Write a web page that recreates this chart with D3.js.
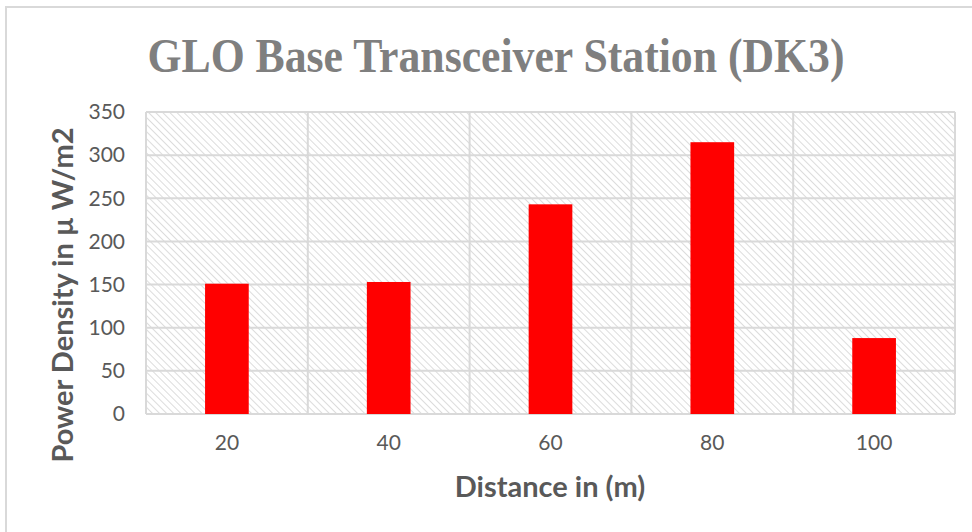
<html><head>
<script src="https://d3js.org/d3.v7.min.js"></script>
<style>
body { margin: 0; background: #fff; }
svg { display: block; }
</style>
</head>
<body>
<svg id="chart" width="972" height="532"></svg>
<script>
// data
const distances = ["20", "40", "60", "80", "100"];
const powerDensity = [151, 153, 243, 315, 88];
const yTicks = [0, 50, 100, 150, 200, 250, 300, 350];

const svg = d3.select('#chart');
const width = 972, height = 532;
const plot = { left: 146, right: 955, top: 112, bottom: 414 };

// hatch fill for plot area
const defs = svg.append('defs');
const pat = defs.append('pattern')
  .attr('id', 'hatch')
  .attr('patternUnits', 'userSpaceOnUse')
  .attr('width', 5).attr('height', 5)
  .attr('patternTransform', 'rotate(-45)');
pat.append('rect').attr('width', 5).attr('height', 5).attr('fill', '#fff');
pat.append('line')
  .attr('x1', 0).attr('y1', 0).attr('x2', 0).attr('y2', 5)
  .attr('stroke', '#dcdcdc').attr('stroke-width', 2);

// chart border
svg.append('rect')
  .attr('x', 6).attr('y', 7)
  .attr('width', 980).attr('height', 540)
  .attr('fill', 'none')
  .attr('stroke', '#d9d9d9')
  .attr('stroke-width', 2);

const x = d3.scaleBand()
  .domain(distances)
  .range([plot.left, plot.right])
  .paddingInner(0.73)
  .paddingOuter(0.365);

const xCat = d3.scaleBand()
  .domain(distances)
  .range([plot.left, plot.right]);

const y = d3.scaleLinear()
  .domain([0, 350])
  .range([plot.bottom, plot.top]);

svg.append('rect')
  .attr('x', plot.left).attr('y', plot.top)
  .attr('width', plot.right - plot.left)
  .attr('height', plot.bottom - plot.top)
  .attr('fill', 'url(#hatch)');

// horizontal gridlines
svg.append('g')
  .selectAll('line')
  .data(yTicks)
  .join('line')
  .attr('x1', plot.left).attr('x2', plot.right)
  .attr('y1', d => y(d)).attr('y2', d => y(d))
  .attr('stroke', '#d9d9d9')
  .attr('stroke-width', 2);

// vertical gridlines at category boundaries
const bounds = distances.map(d => xCat(d)).concat([plot.right]);
svg.append('g')
  .selectAll('line')
  .data(bounds)
  .join('line')
  .attr('x1', d => d).attr('x2', d => d)
  .attr('y1', plot.top).attr('y2', plot.bottom)
  .attr('stroke', '#d9d9d9')
  .attr('stroke-width', 2);

// bars
svg.append('g')
  .selectAll('rect')
  .data(powerDensity)
  .join('rect')
  .attr('x', (d, i) => x(distances[i]))
  .attr('y', d => y(d))
  .attr('width', x.bandwidth())
  .attr('height', d => y(0) - y(d))
  .attr('fill', '#ff0000');

// y axis labels
const yAxis = d3.axisLeft(y).tickValues(yTicks).tickSize(0).tickPadding(0);
const gy = svg.append('g')
  .attr('transform', `translate(${plot.left - 21},0)`)
  .call(yAxis);
gy.select('.domain').remove();
gy.selectAll('text')
  .attr('font-family', 'Lato, "Open Sans", sans-serif')
  .attr('font-size', 21)
  .attr('fill', '#595959');

// x axis labels
const xAxis = d3.axisBottom(xCat).tickSize(0).tickPadding(0);
const gx = svg.append('g')
  .attr('transform', `translate(0,${plot.bottom + 21})`)
  .call(xAxis);
gx.select('.domain').remove();
gx.selectAll('text')
  .attr('font-family', 'Lato, "Open Sans", sans-serif')
  .attr('font-size', 21)
  .attr('fill', '#595959');

// title
svg.append('text')
  .attr('x', 496).attr('y', 72)
  .attr('text-anchor', 'middle')
  .attr('font-family', '"Liberation Serif", "DejaVu Serif", serif')
  .attr('font-weight', 'bold')
  .attr('font-size', 48)
  .attr('textLength', 697)
  .attr('lengthAdjust', 'spacingAndGlyphs')
  .attr('fill', '#7f7f7f')
  .text('GLO Base Transceiver Station (DK3)');

// axis titles
svg.append('text')
  .attr('x', 550).attr('y', 497)
  .attr('text-anchor', 'middle')
  .attr('font-family', 'Lato, "Open Sans", sans-serif')
  .attr('font-weight', 'bold')
  .attr('font-size', 29)
  .attr('fill', '#595959')
  .text('Distance in (m)');

svg.append('text')
  .attr('transform', 'translate(73,295) rotate(-90)')
  .attr('text-anchor', 'middle')
  .attr('font-family', 'Lato, "Open Sans", sans-serif')
  .attr('font-weight', 'bold')
  .attr('font-size', 29)
  .attr('fill', '#595959')
  .text('Power Density in µ W/m2');
</script>
</body></html>
